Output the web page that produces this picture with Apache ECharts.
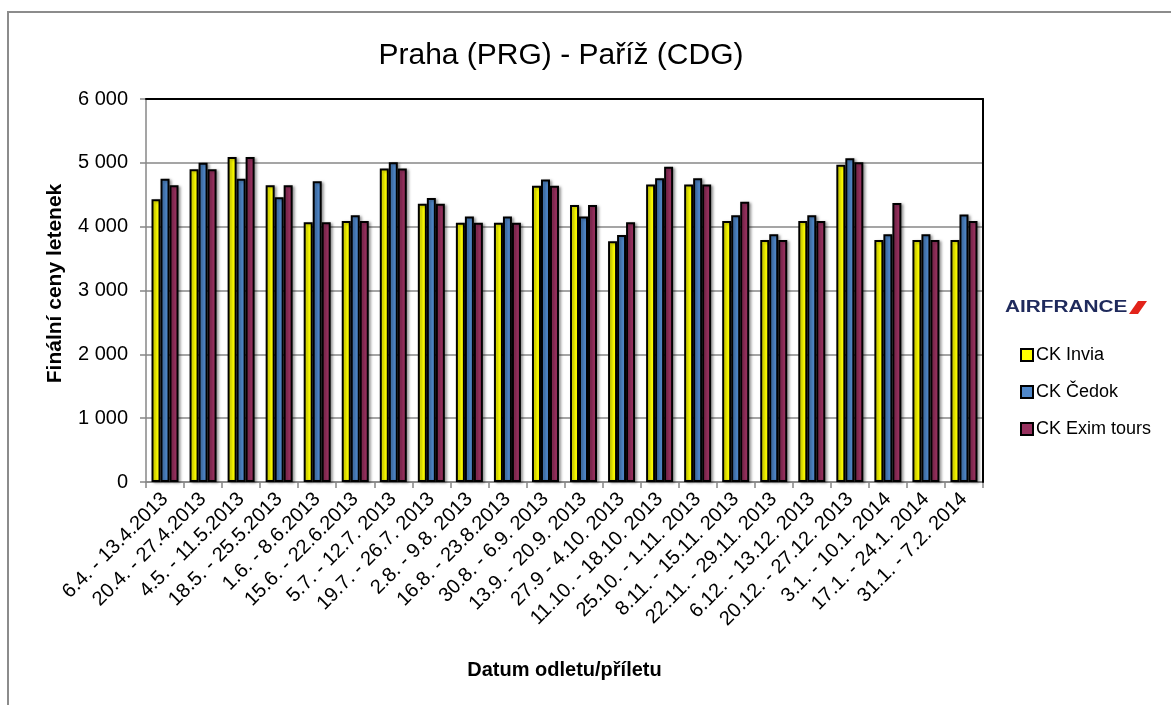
<!DOCTYPE html>
<html>
<head>
<meta charset="utf-8">
<script src="https://cdn.jsdelivr.net/npm/echarts@6/dist/echarts.min.js"></script>
<style>
  html, body { margin: 0; padding: 0; background: #fff; }
  #chart { width: 1171px; height: 705px; }
</style>
</head>
<body>
<div id="chart"></div>
<script>
// ---- data ----
const dates = [
  '6.4. - 13.4.2013', '20.4. - 27.4.2013', '4.5. - 11.5.2013', '18.5. - 25.5.2013',
  '1.6. - 8.6.2013', '15.6. - 22.6.2013', '5.7. - 12.7. 2013', '19.7. - 26.7. 2013',
  '2.8. - 9.8. 2013', '16.8. - 23.8.2013', '30.8. - 6.9. 2013', '13.9. - 20.9. 2013',
  '27.9 - 4.10. 2013', '11.10. - 18.10. 2013', '25.10. - 1.11. 2013', '8.11. - 15.11. 2013',
  '22.11. - 29.11. 2013', '6.12. - 13.12. 2013', '20.12. - 27.12. 2013', '3.1. - 10.1. 2014',
  '17.1. - 24.1. 2014', '31.1. - 7.2. 2014'
]
const invia = [4430, 4900, 5090, 4650, 4070, 4090, 4910, 4360, 4060, 4060, 4640, 4340, 3770, 4660, 4660, 4090, 3790, 4090, 4970, 3790, 3790, 3790]
const cedok = [4750, 5000, 4750, 4460, 4710, 4180, 5010, 4450, 4160, 4160, 4740, 4160, 3870, 4760, 4760, 4180, 3880, 4180, 5070, 3880, 3880, 4190]
const exim = [4650, 4900, 5090, 4650, 4070, 4090, 4910, 4360, 4060, 4060, 4640, 4340, 4070, 4940, 4660, 4390, 3790, 4090, 5010, 4370, 3790, 4090]

const font = 'Liberation Sans, Arial, sans-serif'
const gray = '#878787'

const chart = echarts.init(document.getElementById('chart'))

const barSeries = (name, data, color) => ({
  name,
  type: 'bar',
  data,
  barWidth: 9,
  barGap: '0%',
  itemStyle: {
    color,
    borderColor: '#000',
    borderWidth: 2,
    shadowColor: 'rgba(0,0,0,0.35)',
    shadowBlur: 3,
    shadowOffsetX: 2,
    shadowOffsetY: 1,
  },
})

chart.setOption({
  animation: false,
  textStyle: { fontFamily: font },
  title: {
    text: 'Praha (PRG) - Paříž (CDG)',
    left: 556,
    textAlign: 'center',
    top: 36,
    textStyle: { fontSize: 30, fontWeight: 'normal', color: '#000', fontFamily: font },
  },
  legend: {
    orient: 'vertical',
    left: 1020,
    top: 346,
    padding: 0,
    icon: 'rect',
    itemWidth: 12,
    itemHeight: 12,
    itemGap: 19,
    textStyle: { fontSize: 18, color: '#000', fontFamily: font, padding: [0, 0, 0, -2] },
  },
  grid: { left: 146, top: 99, width: 837, height: 383 },
  xAxis: [
    {
      type: 'category',
      data: dates,
      axisLine: { lineStyle: { color: gray, width: 1.5 } },
      axisTick: { show: true, length: 6, lineStyle: { color: gray, width: 1.5 } },
      axisLabel: {
        rotate: 45,
        interval: 0,
        fontSize: 20,
        color: '#000',
        margin: 14,
      },
      name: 'Datum odletu/příletu',
      nameLocation: 'middle',
      nameGap: 178,
      nameTextStyle: { fontSize: 20, fontWeight: 'bold', color: '#000' },
    },
    {
      type: 'category',
      data: dates,
      position: 'top',
      z: 10,
      axisLine: { onZero: false, lineStyle: { color: '#000', width: 2 } },
      axisTick: { show: false },
      axisLabel: { show: false },
    },
  ],
  yAxis: [
    {
      type: 'value',
      min: 0,
      max: 6000,
      interval: 1000,
      axisLine: { show: true, lineStyle: { color: gray, width: 1.5 } },
      axisTick: { show: true, length: 6, lineStyle: { color: gray, width: 1.5 } },
      splitLine: { lineStyle: { color: gray, width: 1.5 } },
      axisLabel: {
        fontSize: 20,
        color: '#000',
        margin: 18,
        formatter: (v) => String(v).replace(/\B(?=(\d{3})+(?!\d))/g, ' '),
      },
      name: 'Finální ceny letenek',
      nameLocation: 'middle',
      nameGap: 80,
      nameTextStyle: { fontSize: 21, fontWeight: 'bold', color: '#000', padding: [0, 0, 0, 14] },
    },
    {
      type: 'value',
      min: 0,
      max: 6000,
      position: 'right',
      z: 10,
      axisLine: { show: true, onZero: false, lineStyle: { color: '#000', width: 2 } },
      axisTick: { show: false },
      axisLabel: { show: false },
      splitLine: { show: false },
    },
  ],
  series: [
    barSeries('CK Invia', invia, '#ffff00'),
    barSeries('CK Čedok', cedok, '#4f87c9'),
    barSeries('CK Exim tours', exim, '#98315f'),
  ],
  graphic: [
    {
      type: 'rect',
      shape: { x: 8, y: 12, width: 1300, height: 900 },
      style: { fill: 'none', stroke: '#8c8c8c', lineWidth: 2 },
      silent: true,
    },
    {
      type: 'text',
      x: 1005,
      y: 300,
      scaleX: 1.3,
      style: {
        text: 'AIRFRANCE',
        font: 'bold 16px ' + font,
        fill: '#1f2a5c',
      },
    },
    {
      type: 'polygon',
      shape: { points: [[1138, 301], [1147, 301], [1138, 314], [1129, 314]] },
      style: { fill: '#e2231a' },
    },
  ],
})
</script>
</body>
</html>
